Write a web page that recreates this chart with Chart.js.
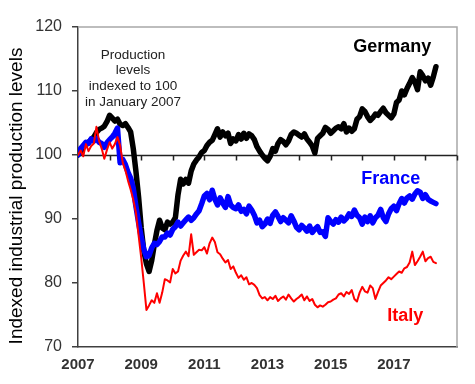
<!DOCTYPE html>
<html>
<head>
<meta charset="utf-8">
<script src="https://cdn.jsdelivr.net/npm/chart.js@4.4.1/dist/chart.umd.min.js"></script>
<style>
    body { margin: 0; background: #fff; }
    canvas { display: block; }
</style>
</head>
<body>
<canvas id="ipChart" width="475" height="384"></canvas>
<script>
// Monthly industrial production, Jan 2007 = 100 (Jan 2007 .. May 2018)
const startYear = 2007;

const germany = [
    100, 100.5, 101.2, 101.6, 102, 102.4, 102.8, 103.5, 104, 104.2, 104.5, 105.2,       // 2007
    106.2, 105.8, 105.3, 105.6, 104.8, 104.6, 104.9, 104.3, 103.6, 101, 97.5, 93.5,     // 2008
    88.7, 85, 83, 81.8, 83.5, 86, 88.2, 89.8, 88.6, 88.3, 89.5, 89.2,                   // 2009
    89.5, 90.2, 93.8, 96.2, 95.5, 96.2, 95.6, 97.5, 98.6, 99.2, 99.7, 100.4,            // 2010
    100.7, 101.5, 102, 102.3, 103.2, 104.1, 102.8, 103.6, 103, 103.4, 101.8, 102.5,     // 2011
    102.2, 103.2, 102.5, 103.4, 102.6, 103.3, 103, 102.4, 101.3, 100.6, 100, 99.5,      // 2012
    99.1, 99.8, 101, 100.6, 101.8, 102.4, 102.1, 101.6, 102.2, 103.2, 103.6, 103.4,     // 2013
    103.1, 102.8, 103.3, 102.5, 102, 101.4, 100.3, 102.6, 103, 103.4, 104.3, 104,       // 2014
    103.4, 103.8, 104.2, 104.4, 104.1, 104.9, 103.6, 104.2, 103.7, 104.1, 105.6, 106,   // 2015
    107.2, 106.8, 106, 105.4, 105.8, 106.4, 106.2, 106.8, 107.3, 106.6, 106.2, 105.8,   // 2016
    106.4, 108.2, 108.6, 110, 109.4, 110.4, 111.2, 112.1, 111.4, 110.2, 113, 112.4,     // 2017
    111.6, 112, 110.9, 112.2, 113.8                                                     // 2018
];

const france = [
    100, 101, 101.5, 102, 101.8, 102.5, 102.2, 102.6, 102, 101.8, 101.2, 101.9,
    102.4, 102.8, 103.4, 104.2, 98.8, 99.3, 98.5, 97.3, 96.4, 94.8, 92, 89.5,
    87.2, 85.3, 84.1, 84.3, 85.5, 86.2, 86, 86.5, 87.2, 87.2, 87.8, 87.5,
    88.4, 88.8, 89.5, 88.9, 89.4, 89.9, 90.3, 89.8, 90.2, 90.8, 91.3, 92.4,
    93.6, 94, 93, 94.5, 93.1, 92.2, 93.3, 92.5, 91.8, 93.5, 92.2, 91.8,
    91.6, 92.2, 91.2, 91.5, 90.8, 92, 91.4, 90.6, 89.4, 89.8, 88.8, 89.2,
    90, 89.3, 90.6, 91.1, 90.4, 89.6, 90.2, 89.8, 89.4, 90.5, 89.7, 88.7,
    88.3, 89, 88.6, 88.1, 88.9, 87.9, 88.4, 88.8, 87.9, 88, 87.3, 90.2,
    89.6, 89.2, 89.9, 89.5, 90.3, 89.7, 90.1, 90.8, 90.4, 91.4, 90.6, 90.2,
    89.2, 90.3, 89.6, 90.5, 89.4, 90.2, 90.6, 91.5, 90.2, 89.6, 90.8, 91.6,
    92, 91.3, 92.4, 93.2, 92.5, 93.3, 93.6, 93.1, 93.9, 94.4, 94.2, 93.2,
    93.8, 93.1, 92.8, 92.6, 92.4
];

const italy = [
    100, 100.7, 99.8, 101.7, 100.6, 101.4, 101.8, 104.4, 102.2, 101, 99.4, 100.8,
    102, 101, 101.7, 102.8, 101.5, 98.8, 97.6, 96, 94.6, 93, 91, 87.5,
    84, 80, 75.8, 76.5, 77.3, 76.9, 78.4, 76.9, 78.5, 80.6, 80.4, 80.1,
    82.2, 81.5, 81.8, 83.5, 84.3, 84.9, 84.2, 87.6, 84.4, 84.8, 85.2, 85.1,
    85.6, 84.6, 86.2, 87.1, 86.4, 84.8, 84.5, 83.8, 83.2, 83.6, 82.2, 82.6,
    81.6, 80.8, 81.2, 80.5, 80.9, 79.8, 80, 79.7, 79.2, 78.1, 77.6, 77.8,
    77.3, 77.8, 77.5, 78, 77.2, 77.6, 77.9, 77.4, 78.2, 77.6, 77.1, 77.5,
    77.8, 78.2, 77.3, 77.9, 77.2, 77.5, 76.6, 76.2, 76.5, 76.3, 76.6, 77,
    77.1, 77.4, 77.6, 78.2, 78.4, 77.9, 78.6, 78.3, 78.9, 77.5, 77.1, 78.5,
    79.4, 78.7, 78.5, 79.6, 79.2, 77.5, 78.6, 79.6, 80, 80.4, 80.9, 80.6,
    81, 81.4, 81.8, 81.6, 82.3, 82.5, 83.2, 84.9, 82.8, 83.4, 84.1, 84.9,
    83.4, 83.9, 84.1, 83.3, 83.1
];

const xTickLabels = [2007, 2009, 2011, 2013, 2015, 2017];
const yTicks = [70, 80, 90, 100, 110, 120];
const baseValue = 100;
const noteLines = ['Production', 'levels', 'indexed to 100', 'in January 2007'];
const axisTitle = 'Indexed industrial production levels';

// turn a monthly series into {x, y} points
function toPoints(series) {
    return series.map((v, i) => ({ x: startYear + i / 12, y: v }));
}

// frame, 100 line with yearly ticks, and the text labels
const decorations = {
    id: 'decorations',
    beforeDatasetsDraw(chart) {
        const { ctx, chartArea: a, scales: { x, y } } = chart;
        ctx.save();
        // light grey frame on top / right
        ctx.strokeStyle = '#a8a8a8';
        ctx.lineWidth = 1.5;
        ctx.beginPath();
        ctx.moveTo(a.left, a.top);
        ctx.lineTo(a.right, a.top);
        ctx.lineTo(a.right, a.bottom);
        ctx.stroke();

        // base line at 100
        const yb = Math.round(y.getPixelForValue(baseValue)) + 0.5;
        ctx.strokeStyle = '#222';
        ctx.lineWidth = 1.5;
        ctx.beginPath();
        ctx.moveTo(a.left, yb);
        ctx.lineTo(a.right, yb);
        for (let yr = startYear + 1; yr <= x.max; yr++) {
            const px = Math.round(x.getPixelForValue(yr)) + 0.5;
            ctx.moveTo(px, yb);
            ctx.lineTo(px, yb + 5);
        }
        ctx.stroke();
        ctx.restore();
    },
    afterDatasetsDraw(chart) {
        const { ctx, scales: { x, y } } = chart;
        ctx.save();
        ctx.textAlign = 'center';
        ctx.textBaseline = 'middle';

        // note
        ctx.fillStyle = '#222';
        ctx.font = '13.5px "Liberation Sans", Arial, sans-serif';
        const nx = x.getPixelForValue(2008.74);
        const ny = y.getPixelForValue(115.6);
        noteLines.forEach((line, i) => ctx.fillText(line, nx, ny + i * 15.6));

        // series names
        ctx.font = 'bold 18px "Liberation Sans", Arial, sans-serif';
        ctx.fillStyle = '#000';
        ctx.fillText('Germany', x.getPixelForValue(2016.95), y.getPixelForValue(116.9));
        ctx.fillStyle = '#0000ff';
        ctx.fillText('France', x.getPixelForValue(2016.9), y.getPixelForValue(96.2));
        ctx.fillStyle = '#ff0000';
        ctx.fillText('Italy', x.getPixelForValue(2017.36), y.getPixelForValue(74.9));

        // y axis title
        ctx.fillStyle = '#000';
        ctx.font = '19px "Liberation Sans", Arial, sans-serif';
        ctx.translate(17, 196);
        ctx.rotate(-Math.PI / 2);
        ctx.fillText(axisTitle, 0, 0);
        ctx.restore();
    }
};

const ctx = document.getElementById('ipChart').getContext('2d');
const chart = new Chart(ctx, {
    type: 'line',
    data: {
        datasets: [
            {
                label: 'Germany',
                data: toPoints(germany),
                borderColor: '#000000',
                borderWidth: 5.5,
                order: 3
            },
            {
                label: 'France',
                data: toPoints(france),
                borderColor: '#0000ff',
                borderWidth: 5.5,
                order: 2
            },
            {
                label: 'Italy',
                data: toPoints(italy),
                borderColor: '#ff0000',
                borderWidth: 2,
                order: 1
            }
        ]
    },
    options: {
        responsive: false,
        devicePixelRatio: 1,
        animation: false,
        layout: { padding: { top: 27, right: 18, left: 0, bottom: 0 } },
        elements: {
            point: { radius: 0 },
            line: { tension: 0, borderJoinStyle: 'round', borderCapStyle: 'round' }
        },
        plugins: {
            legend: { display: false },
            tooltip: { enabled: false }
        },
        scales: {
            x: {
                type: 'linear',
                min: startYear,
                max: 2019,
                afterFit: s => { s.height = 37; },
                grid: { display: false, drawTicks: false },
                border: { display: true, color: '#404040', width: 1.5 },
                ticks: {
                    stepSize: 1,
                    autoSkip: false,
                    maxRotation: 0,
                    padding: 9,
                    color: '#333',
                    font: { family: '"Liberation Sans", Arial, sans-serif', size: 15, weight: 'bold' },
                    callback: v => xTickLabels.includes(v) ? String(v) : ''
                }
            },
            y: {
                min: yTicks[0],
                max: yTicks[yTicks.length - 1],
                afterFit: s => { s.width = 78; },
                grid: { drawOnChartArea: false, drawTicks: true, tickLength: 6, color: '#404040', lineWidth: 1.5 },
                border: { display: true, color: '#404040', width: 1.5 },
                ticks: {
                    stepSize: 10,
                    padding: 10,
                    color: '#333',
                    font: { family: '"Liberation Sans", Arial, sans-serif', size: 16 }
                }
            }
        }
    },
    plugins: [decorations]
});
</script>
</body>
</html>
